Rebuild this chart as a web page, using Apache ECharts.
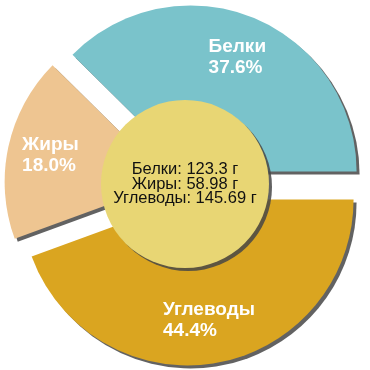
<!DOCTYPE html>
<html>
<head>
<meta charset="utf-8">
<script src="https://cdn.jsdelivr.net/npm/echarts@6/dist/echarts.min.js"></script>
<style>
html,body{margin:0;padding:0;background:#fff;}
#chart{width:370px;height:370px;}
</style>
</head>
<body>
<div id="chart"></div>
<script>
const categories = ['Белки', 'Жиры', 'Углеводы'];
const values = [123.3, 58.98, 145.69];
const unit = 'г';
const sliceColors = ['#7AC3CB', '#EEC591', '#DAA520'];

const total = values.reduce((a, b) => a + b, 0);
const pieData = categories.map((n, i) => ({
  name: n, value: values[i], selected: true,
  itemStyle: { color: sliceColors[i] }
}));
const labelData = categories.map((n, i) => ({ name: n, value: values[i], selected: true }));
const centerText = categories.map((n, i) => n + ': ' + values[i] + ' ' + unit).join('\n');

const chart = echarts.init(document.getElementById('chart'), null, { renderer: 'canvas' });
const shadow = { shadowColor: 'rgba(70,70,70,0.85)', shadowBlur: 0, shadowOffsetX: 3, shadowOffsetY: 3 };
chart.setOption({
  animation: false,
  series: [
    {
      type: 'pie', center: [185, 185], radius: [0, 166],
      startAngle: 0, clockwise: false,
      selectedMode: 'multiple', selectedOffset: 14.7,
      silent: true,
      label: { show: false }, labelLine: { show: false },
      itemStyle: Object.assign({ borderWidth: 0 }, shadow),
      emphasis: { disabled: true },
      data: pieData
    },
    {
      type: 'pie', center: [185, 185], radius: [74, 166],
      startAngle: 0, clockwise: false,
      selectedMode: 'multiple', selectedOffset: 14.7,
      silent: true,
      itemStyle: { color: 'rgba(0,0,0,0)' },
      labelLine: { show: false },
      emphasis: { disabled: true },
      select: { itemStyle: { color: 'rgba(0,0,0,0)' } },
      label: {
        show: true, position: 'inside',
        formatter: p => '{a|' + p.name + '}\n{a|' + (p.value / total * 100).toFixed(1) + '%}',
        rich: {
          a: { align: 'left', color: '#fff', fontFamily: 'Liberation Sans, Arial, sans-serif', fontWeight: 'bold', fontSize: 19, lineHeight: 21 }
        }
      },
      data: labelData
    },
    {
      type: 'pie', center: [185, 184], radius: [0, 84],
      silent: true,
      itemStyle: Object.assign({ color: '#E8D674' }, shadow),
      labelLine: { show: false },
      emphasis: { disabled: true },
      label: {
        show: true, position: 'center',
        formatter: () => centerText,
        color: '#111', fontFamily: 'Liberation Sans, Arial, sans-serif',
        fontSize: 16.5, lineHeight: 14.5
      },
      data: [{ name: 'center', value: 1 }]
    }
  ]
});
</script>
</body>
</html>
